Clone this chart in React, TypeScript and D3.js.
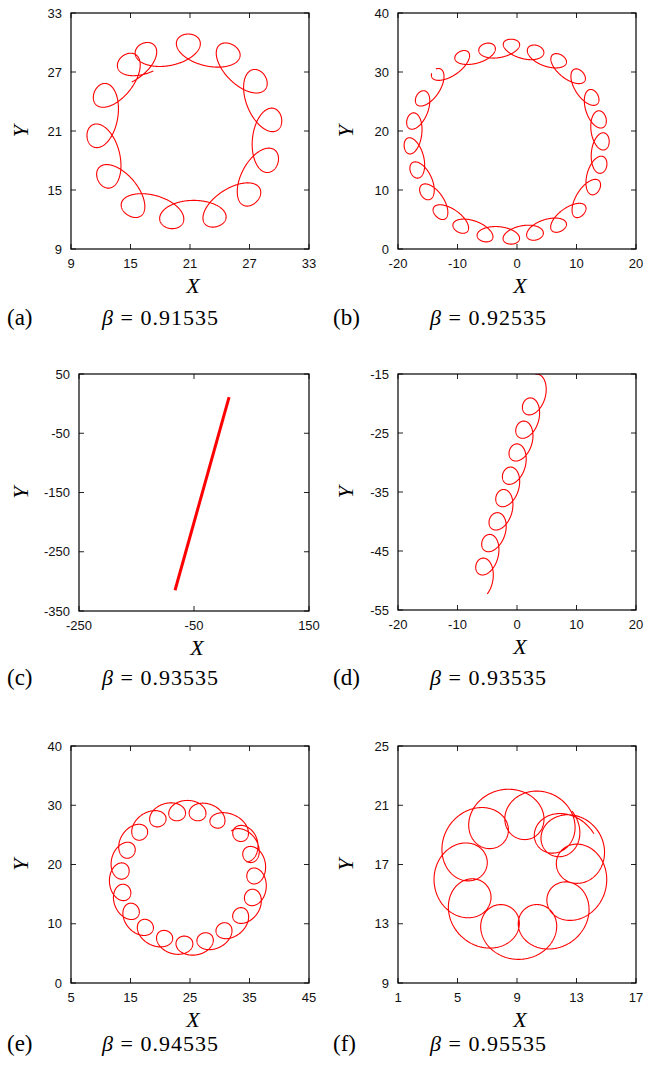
import React from "react";
import * as d3 from "d3";

// ---------------- data ----------------
// (a) beta = 0.91535 : loop centres along the orbit (CCW)
const aXTicks = [9, 15, 21, 27, 33];
const aYTicks = [9, 15, 21, 27, 33];
const aLoopX = [14.92, 12.53, 11.86, 12.87, 15.39, 19.18, 23.39, 26.82, 28.66, 29.0, 27.49, 24.73, 20.83, 16.73];
const aLoopY = [27.58, 24.53, 20.53, 16.49, 13.51, 12.32, 12.49, 14.69, 18.08, 22.08, 25.95, 28.66, 29.61, 28.76];
const aGyration = [1.5, 0, 2.15]; // radial, radial 2nd harmonic, tangential
const aSpan = [-0.48, 13.52];

// (b) beta = 0.92535
const bXTicks = [-20, -10, 0, 10, 20];
const bYTicks = [0, 10, 20, 30, 40];
const bLoopX = [-13.28, -15.8, -17.31, -17.76, -16.75, -15.07, -12.72, -9.36, -5.32, -0.95, 2.97, 6.89, 10.25, 12.77, 13.89, 14.29, 13.78, 12.49, 10.14, 6.89, 3.08, -0.95, -4.99, -9.08, -13.1];
const bLoopY = [29.27, 25.42, 21.64, 17.51, 13.45, 9.77, 6.38, 3.95, 2.43, 2.03, 2.71, 4.12, 6.67, 10.62, 14.29, 18.25, 21.92, 25.59, 29.15, 31.81, 33.33, 34.35, 33.67, 32.37, 29.5];
const bGyration = [1.45, 0, 2.35];
const bSpan = [0.08, 23.92];

// (c) beta = 0.93535 : straight drift
const cXTicks = [-250, -50, 150];
const cYTicks = [50, -50, -150, -250, -350];
const cLineX = [-83, 11];
const cLineY = [-315, 11];

// (d) beta = 0.93535
const dXTicks = [-20, -10, 0, 10, 20];
const dYTicks = [-15, -25, -35, -45, -55];
const dLoopX = [-5.55, -4.54, -3.31, -2.18, -1.06, 0.05, 1.18, 2.3];
const dLoopY = [-47.66, -43.7, -40.03, -36.07, -32.29, -28.34, -24.49, -20.54];
const dGyration = [1.65, 0, 2.4];
const dSpan = [-0.63, 7.85];

// (e) beta = 0.94535
const eXTicks = [5, 15, 25, 35, 45];
const eYTicks = [0, 10, 20, 30, 40];
const eLoopX = [34.6, 33.57, 29.65, 26.29, 22.82, 19.57, 16.48, 14.41, 13.4, 13.68, 15.08, 17.44, 20.69, 24.05, 27.58, 30.77, 33.57, 35.53, 35.92, 35.25, 32.9];
const eLoopY = [21.6, 25.26, 27.51, 28.75, 28.75, 27.74, 25.49, 22.45, 18.91, 15.25, 12.05, 9.35, 7.49, 6.54, 7.1, 8.78, 11.32, 14.41, 18.07, 21.72, 24.9];
const eGyration = [1.65, 0, 2.2];
const eSpan = [0.2, 19.8];

// (f) beta = 0.95535
const fXTicks = [1, 5, 9, 13, 17];
const fYTicks = [9, 13, 17, 21, 25];
const fLoopX = [11.62, 9.52, 7.05, 5.55, 5.82, 7.83, 10.41, 12.43, 13.1, 11.91];
const fLoopY = [19.1, 20.14, 19.49, 17.19, 14.69, 12.85, 12.85, 14.47, 17.08, 19.01];
const fGyration = [1.75, 0, 1.85];
const fSpan = [-0.5, 9.4];

const labels = ["(a)", "(b)", "(c)", "(d)", "(e)", "(f)"];
const betas = ["0.91535", "0.92535", "0.93535", "0.93535", "0.94535", "0.95535"];

// ---------------- trajectory builder ----------------
type Pt = [number, number];

function gyroPath(lx: number[], ly: number[], side: number, gyr: number[], span: number[]): Pt[] {
  const [c1, c2, rT] = gyr;
  const off = (c1 * (1 + Math.cos(2.3)) + c2 * (1 + Math.cos(4.6))) / 2;
  const n = lx.length;
  const P: Pt[] = lx.map((x, i) => [x, ly[i]]);
  const G: Pt[] = P.map((p, i) => {
    const a = P[Math.max(0, i - 1)], b = P[Math.min(n - 1, i + 1)];
    let tx = b[0] - a[0], ty = b[1] - a[1];
    const L = Math.hypot(tx, ty);
    tx /= L; ty /= L;
    const nx = -side * ty, ny = side * tx;
    return [p[0] - off * nx, p[1] - off * ny];
  });
  const E: Pt[] = G.slice();
  for (let k = 0; k < 2; k++) {
    const a = E[0], b = E[1], c = E[2];
    E.unshift([3 * a[0] - 3 * b[0] + c[0], 3 * a[1] - 3 * b[1] + c[1]]);
    const m = E.length, z = E[m - 1], y = E[m - 2], w = E[m - 3];
    E.push([3 * z[0] - 3 * y[0] + w[0], 3 * z[1] - 3 * y[1] + w[1]]);
  }
  const g = (s: number): Pt => {
    const u = s + 2;
    let i = Math.floor(u);
    i = Math.max(1, Math.min(E.length - 3, i));
    const t = u - i;
    const p0 = E[i - 1], p1 = E[i], p2 = E[i + 1], p3 = E[i + 2];
    const f = (k: number) =>
      0.5 * (2 * p1[k] + (-p0[k] + p2[k]) * t + (2 * p0[k] - 5 * p1[k] + 4 * p2[k] - p3[k]) * t * t +
        (-p0[k] + 3 * p1[k] - 3 * p2[k] + p3[k]) * t * t * t);
    return [f(0), f(1)];
  };
  const out: Pt[] = [];
  for (let s = span[0]; s <= span[1] + 1e-9; s += 0.004) {
    const p = g(s), a = g(s - 1e-3), b = g(s + 1e-3);
    let tx = b[0] - a[0], ty = b[1] - a[1];
    const L = Math.hypot(tx, ty);
    tx /= L; ty /= L;
    const nx = -side * ty, ny = side * tx;
    const ph = 2 * Math.PI * s;
    const yN = c1 * Math.cos(ph) + c2 * Math.cos(2 * ph);
    const xT = rT * Math.sin(ph);
    out.push([p[0] + yN * nx - xT * tx, p[1] + yN * ny - xT * ty]);
  }
  return out;
}

// ---------------- layout ----------------
type PanelDef = {
  frame: [number, number, number, number];
  xDomain: [number, number];
  yDomain: [number, number];
  xTicks: number[];
  yTicks: number[];
  curve: Pt[];
  strokeW: number;
  col: number;
  labelY: number;
};

const panels: PanelDef[] = [
  { frame: [71, 13, 309, 249], xDomain: [9, 33], yDomain: [9, 33], xTicks: aXTicks, yTicks: aYTicks,
    curve: gyroPath(aLoopX, aLoopY, -1, aGyration, aSpan), strokeW: 1.1, col: 0, labelY: 325 },
  { frame: [398, 13, 636, 249], xDomain: [-20, 20], yDomain: [0, 40], xTicks: bXTicks, yTicks: bYTicks,
    curve: gyroPath(bLoopX, bLoopY, -1, bGyration, bSpan), strokeW: 1.1, col: 1, labelY: 325 },
  { frame: [79, 374, 309, 611], xDomain: [-250, 150], yDomain: [-350, 50], xTicks: cXTicks, yTicks: cYTicks,
    curve: cLineX.map((x, i) => [x, cLineY[i]] as Pt), strokeW: 3, col: 0, labelY: 685 },
  { frame: [398, 374, 636, 610], xDomain: [-20, 20], yDomain: [-55, -15], xTicks: dXTicks, yTicks: dYTicks,
    curve: gyroPath(dLoopX, dLoopY, 1, dGyration, dSpan), strokeW: 1.1, col: 1, labelY: 685 },
  { frame: [71, 746, 309, 983], xDomain: [5, 45], yDomain: [0, 40], xTicks: eXTicks, yTicks: eYTicks,
    curve: gyroPath(eLoopX, eLoopY, 1, eGyration, eSpan), strokeW: 1.1, col: 0, labelY: 1051 },
  { frame: [398, 746, 636, 983], xDomain: [1, 17], yDomain: [9, 25], xTicks: fXTicks, yTicks: fYTicks,
    curve: gyroPath(fLoopX, fLoopY, 1, fGyration, fSpan), strokeW: 1.1, col: 1, labelY: 1051 },
];

const SANS = "'Liberation Sans', Arial, Helvetica, sans-serif";
const SERIF = "'Liberation Serif', 'Times New Roman', serif";

function Panel({ p, idx }: { p: PanelDef; idx: number }) {
  const [x0, y0, x1, y1] = p.frame;
  const xs = d3.scaleLinear().domain(p.xDomain).range([x0, x1]);
  const ys = d3.scaleLinear().domain(p.yDomain).range([y1, y0]);
  const line = d3.line<Pt>().x((d) => xs(d[0])).y((d) => ys(d[1]));
  const T = 5;
  const cx = (x0 + x1) / 2, cy = (y0 + y1) / 2;
  const labelX = p.col === 0 ? 7 : 333;
  const betaX = p.col === 0 ? 102 : 430;
  const yTitleX = p.col === 0 ? 28 : 353;
  const clipId = `clip${idx}`;
  return (
    <g>
      <defs>
        <clipPath id={clipId}>
          <rect x={x0} y={y0} width={x1 - x0} height={y1 - y0} />
        </clipPath>
      </defs>
      <path d={line(p.curve) || ""} fill="none" stroke="#ff0000" strokeWidth={p.strokeW}
        strokeLinejoin="round" clipPath={`url(#${clipId})`} />
      {p.xTicks.map((v) => (
        <g key={"x" + v}>
          <line x1={xs(v)} x2={xs(v)} y1={y1} y2={y1 - T} stroke="#222" strokeWidth={1} />
          <line x1={xs(v)} x2={xs(v)} y1={y0} y2={y0 + T} stroke="#222" strokeWidth={1} />
          <text x={xs(v)} y={y1 + 19} fontFamily={SANS} fontSize={13} textAnchor="middle" fill="#111">{v}</text>
        </g>
      ))}
      {p.yTicks.map((v) => (
        <g key={"y" + v}>
          <line x1={x0} x2={x0 + T} y1={ys(v)} y2={ys(v)} stroke="#222" strokeWidth={1} />
          <line x1={x1} x2={x1 - T} y1={ys(v)} y2={ys(v)} stroke="#222" strokeWidth={1} />
          <text x={x0 - 9} y={ys(v)} dy="0.36em" fontFamily={SANS} fontSize={13} textAnchor="end" fill="#111">{v}</text>
        </g>
      ))}
      <rect x={x0} y={y0} width={x1 - x0} height={y1 - y0} fill="none" stroke="#000" strokeWidth={1.2} />
      <text x={cx + 3} y={y1 + 44} fontFamily={SERIF} fontStyle="italic" fontSize={22} textAnchor="middle">X</text>
      <text transform={`translate(${yTitleX},${cy}) rotate(-90)`} fontFamily={SERIF} fontStyle="italic"
        fontSize={22} textAnchor="middle">Y</text>
      <text x={labelX} y={p.labelY} fontFamily={SERIF} fontSize={23}>{labels[idx]}</text>
      <text x={betaX} y={p.labelY} fontFamily={SERIF} fontSize={22} textLength={116} lengthAdjust="spacing">
        <tspan fontStyle="italic">β</tspan>
        <tspan> = {betas[idx]}</tspan>
      </text>
    </g>
  );
}

export default function App() {
  return (
    <svg width={645} height={1068} viewBox="0 0 645 1068"
      style={{ position: "absolute", left: 0, top: 0, background: "#fff" }}>
      <rect x={0} y={0} width={645} height={1068} fill="#fff" />
      {panels.map((p, i) => (
        <Panel key={i} p={p} idx={i} />
      ))}
    </svg>
  );
}
